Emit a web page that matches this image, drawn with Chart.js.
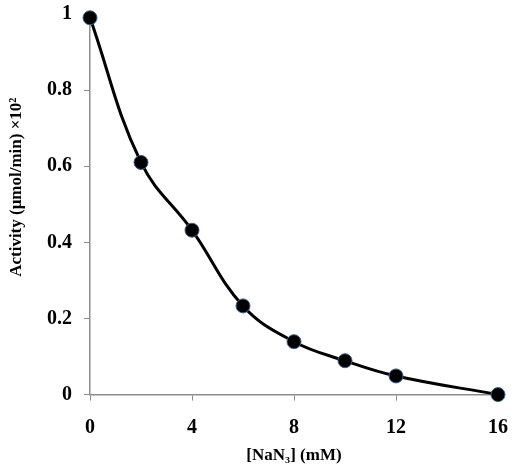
<!DOCTYPE html>
<html>
<head>
<meta charset="utf-8">
<script src="https://cdn.jsdelivr.net/npm/chart.js@4"></script>
<style>
  html, body { margin: 0; padding: 0; background: #fff; }
  #wrap { width: 514px; height: 466px; }
</style>
</head>
<body>
<div id="wrap"><canvas id="chart" width="514" height="466"></canvas></div>
<script>
// [NaN3] concentration (mM) and measured activity
const concentration = [0, 2, 4, 6, 8, 10, 12, 16];
const activity = [0.99, 0.61, 0.432, 0.233, 0.139, 0.089, 0.049, 0.0];
const xTicks = [0, 4, 8, 12, 16];
const yTicks = [0, 0.2, 0.4, 0.6, 0.8, 1];
const yTitle = 'Activity (\u03bcmol/min) \u00d710\u00b2';

const serif = "'Liberation Serif', 'Times New Roman', serif";
const axisGray = '#8c8c8c';

const points = concentration.map((c, i) => ({ x: c, y: activity[i] }));

// y title sits a little above the plot centre in the original, so draw it by hand
const yTitlePlugin = {
    id: 'yTitle',
    afterDraw(chart) {
        const { ctx, chartArea } = chart;
        const cy = chartArea.top + (chartArea.bottom - chartArea.top) * 0.455;
        ctx.save();
        ctx.translate(17, cy);
        ctx.rotate(-Math.PI / 2);
        ctx.font = "bold 17px " + serif;
        ctx.fillStyle = '#000';
        ctx.textAlign = 'center';
        ctx.textBaseline = 'middle';
        ctx.fillText(yTitle, 0, 0);
        ctx.restore();
    }
};

new Chart(document.getElementById('chart'), {
    type: 'line',
    data: {
        datasets: [{
            data: points,
            borderColor: '#000',
            borderWidth: 3,
            tension: 0.4,
            fill: false,
            pointRadius: 7,
            pointHoverRadius: 7,
            pointBackgroundColor: '#000',
            pointBorderColor: '#3b5f8a',
            pointBorderWidth: 1,
            clip: false
        }]
    },
    options: {
        responsive: false,
        animation: false,
        layout: {
            padding: { top: 14, right: 16, bottom: 0, left: 35 }
        },
        plugins: {
            legend: { display: false },
            tooltip: { enabled: false }
        },
        scales: {
            x: {
                type: 'linear',
                min: 0,
                max: 16,
                afterBuildTicks: axis => { axis.ticks = xTicks.map(v => ({ value: v })); },
                afterFit: axis => { axis.paddingLeft = 0; axis.paddingRight = 0; },
                grid: { drawOnChartArea: false, drawTicks: true, tickLength: 6, color: axisGray },
                border: { color: axisGray, width: 1.5 },
                ticks: {
                    color: '#000',
                    padding: 17,
                    font: { family: serif, size: 20, weight: 'bold', lineHeight: 1 }
                },
                title: {
                    display: true,
                    text: '[NaN\u2083] (mM)',
                    color: '#000',
                    padding: { top: -9, bottom: 0 },
                    font: { family: serif, size: 17, weight: 'bold' }
                }
            },
            y: {
                type: 'linear',
                min: 0,
                max: 1,
                afterBuildTicks: axis => { axis.ticks = yTicks.map(v => ({ value: v })); },
                afterFit: axis => { axis.paddingTop = 0; axis.paddingBottom = 0; },
                grid: { drawOnChartArea: false, drawTicks: true, tickLength: 6, color: axisGray },
                border: { color: axisGray, width: 1.5 },
                ticks: {
                    color: '#000',
                    padding: 12,
                    font: { family: serif, size: 20, weight: 'bold', lineHeight: 1 },
                    callback: v => String(Math.round(v * 10) / 10)
                }
            }
        }
    },
    plugins: [yTitlePlugin]
});
</script>
</body>
</html>
